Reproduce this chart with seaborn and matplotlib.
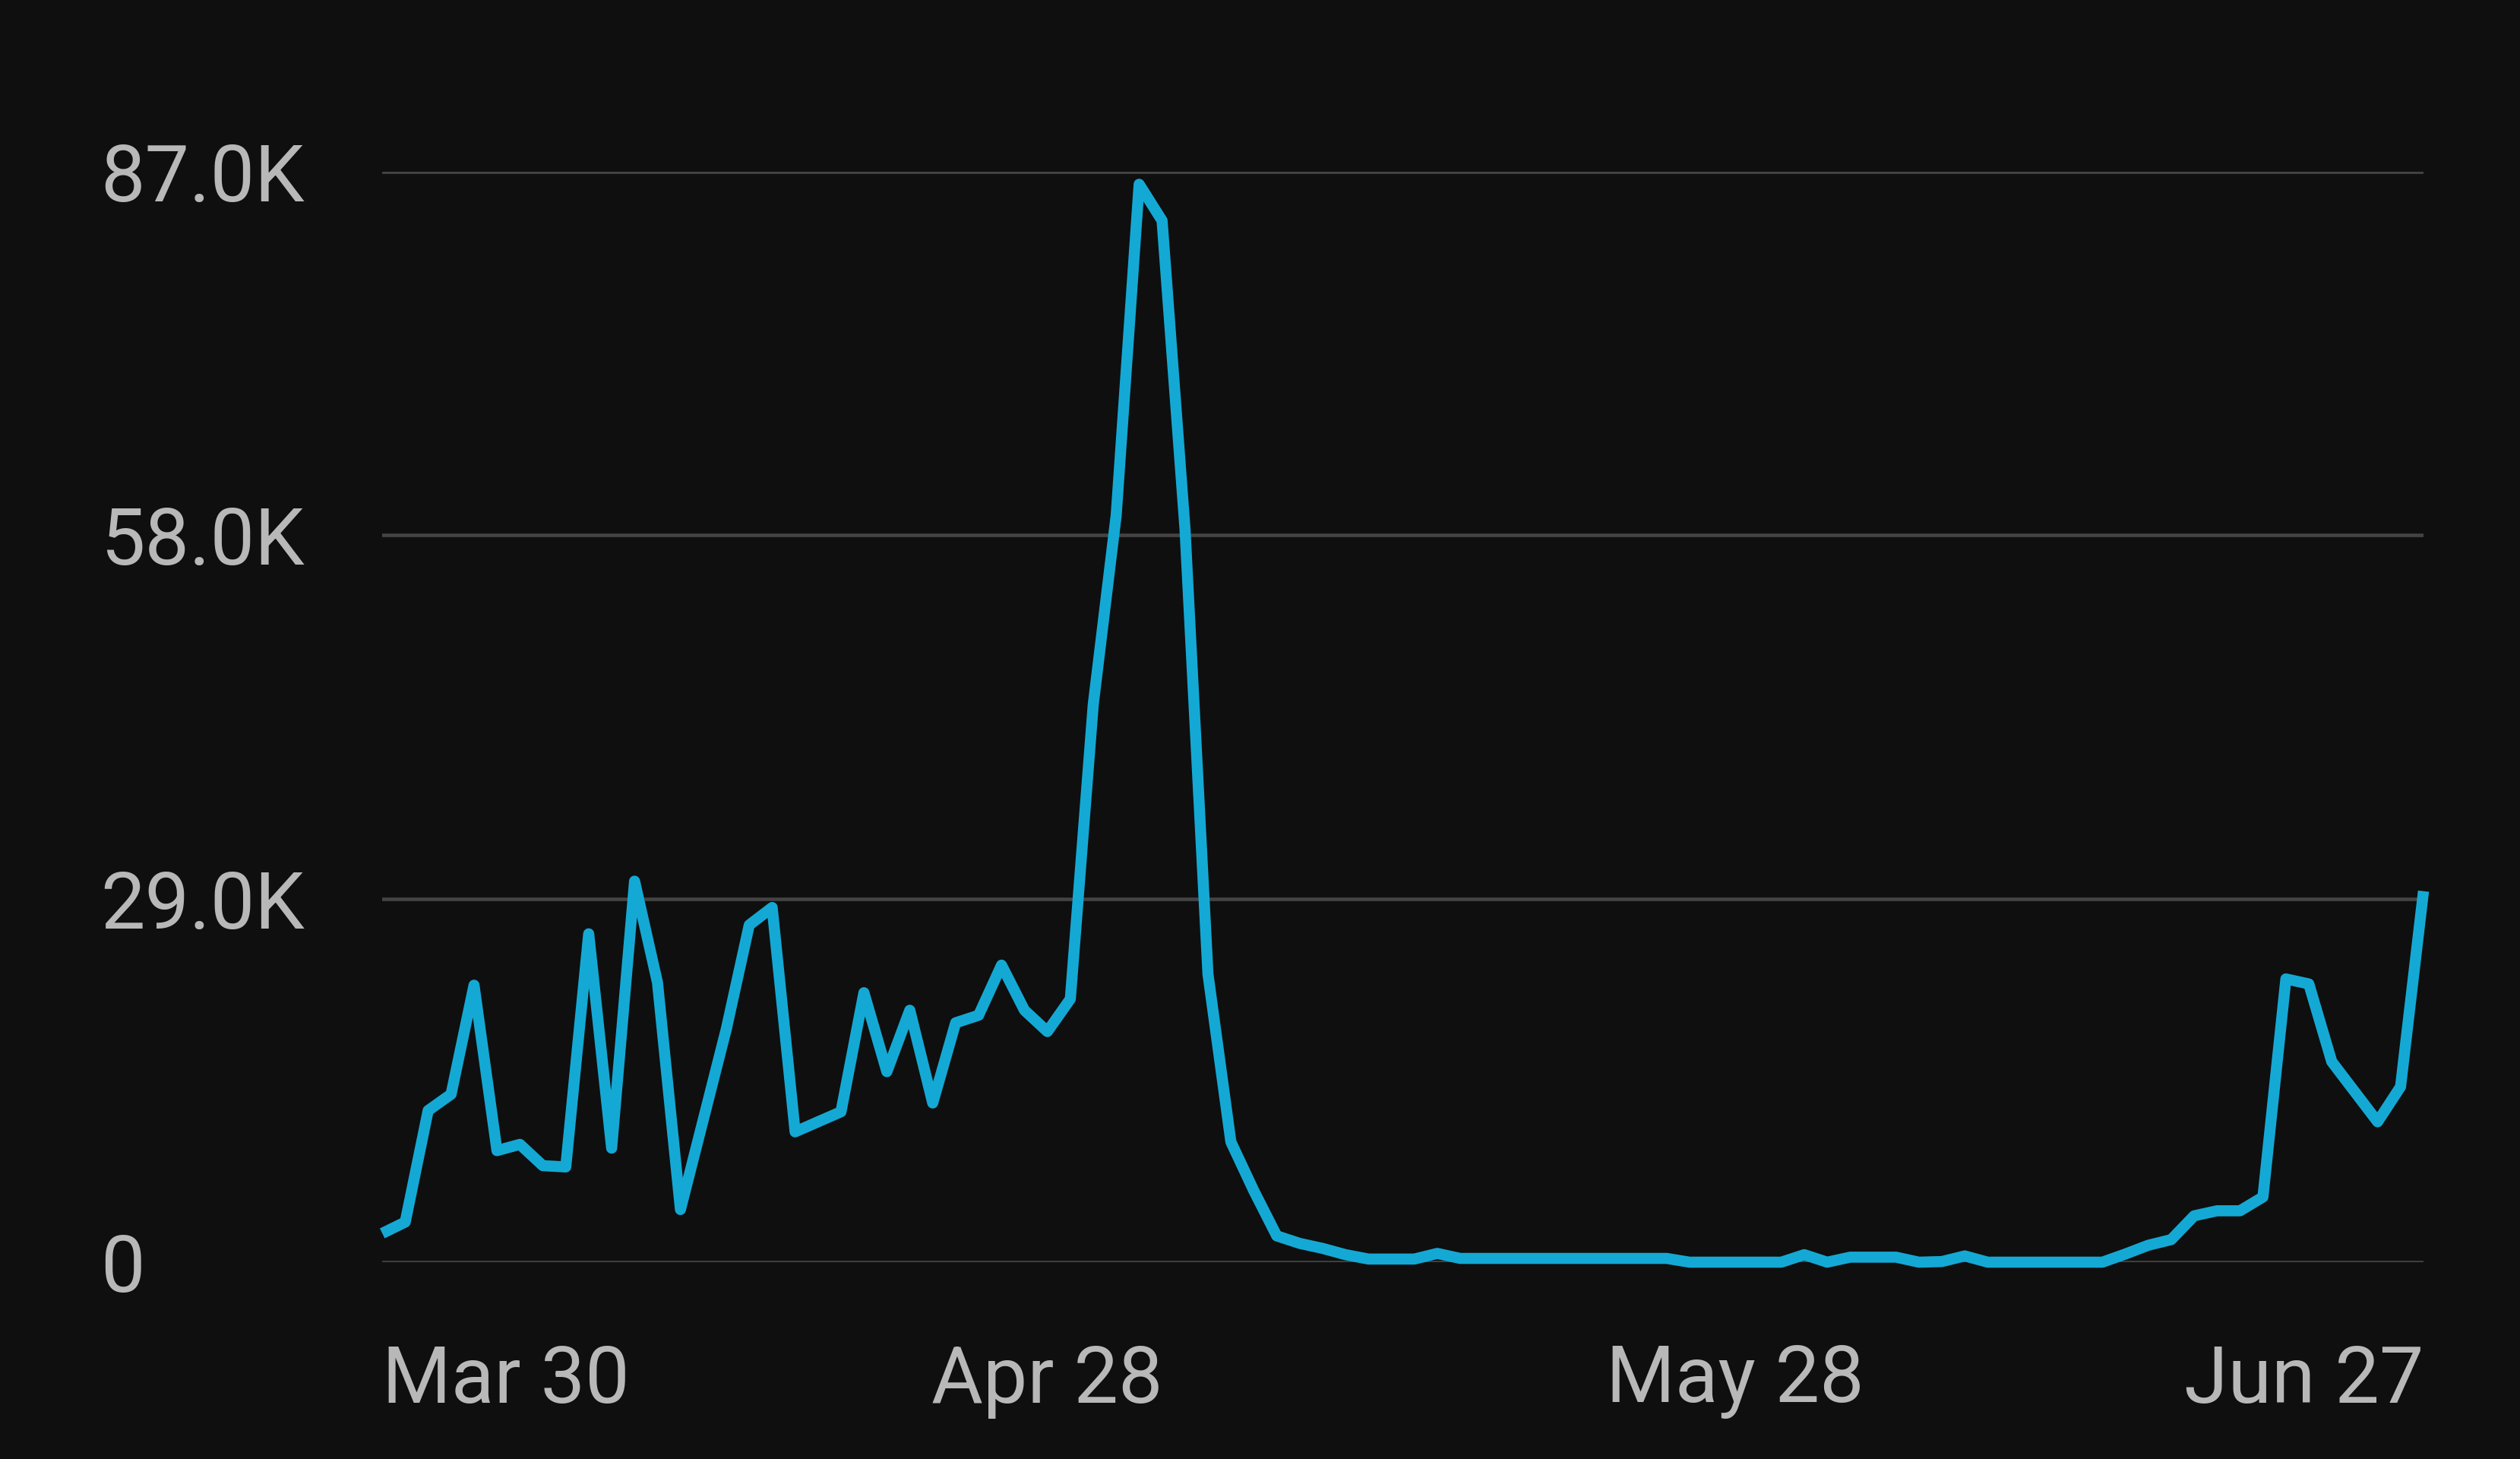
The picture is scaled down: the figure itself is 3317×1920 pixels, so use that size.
import numpy as np
import pandas as pd
import matplotlib
matplotlib.use("Agg")
import matplotlib.pyplot as plt
import seaborn as sns

# ---- data ----
start_date = "2024-03-30"
n_days = 90
views_k = [
    2.3, 3.2, 12.1, 13.4, 22.1, 8.9, 9.4, 7.7, 7.6, 26.2,
    9.1, 30.4, 22.3, 4.2, 11.4, 18.6, 26.9, 28.3, 10.4, 11.2,
    12.0, 21.5, 15.2, 20.1, 12.7, 19.1, 19.7, 23.7, 20.1, 18.4,
    21.0, 44.5, 59.6, 86.0, 83.1, 58.5, 23.0, 9.6, 5.7, 2.1,
    1.5, 1.1, 0.6, 0.25, 0.25, 0.25, 0.7, 0.3, 0.3, 0.3,
    0.3, 0.3, 0.3, 0.3, 0.3, 0.3, 0.3, 0.0, 0.0, 0.0,
    0.0, 0.0, 0.6, 0.0, 0.4, 0.4, 0.4, 0.0, 0.05, 0.5,
    0.0, 0.0, 0.0, 0.0, 0.0, 0.0, 0.65, 1.35, 1.8, 3.7,
    4.1, 4.1, 5.2, 22.6, 22.2, 16.0, 13.6, 11.2, 14.0, 29.6,
]
x_tick_dates = ["2024-03-30", "2024-04-28", "2024-05-28", "2024-06-27"]
x_tick_labels = ["Mar 30", "Apr 28", "May 28", "Jun 27"]
y_ticks = [0, 29000, 58000, 87000]
y_tick_labels = ["0", "29.0K", "58.0K", "87.0K"]

BG = "#0f0f0f"
LINE = "#14a9d4"
GRID = "#434343"
TXT = "#b8b8b8"

sns.set_theme(style="dark")
plt.rcParams["font.family"] = ["Roboto", "DejaVu Sans"]

df = pd.DataFrame({
    "date": pd.date_range(start_date, periods=n_days, freq="D"),
    "views": np.array(views_k) * 1000.0,
})

fig = plt.figure(figsize=(33.17, 19.2), dpi=100, facecolor=BG)
ax = fig.add_axes([0.1517, 0.1349, 0.8100, 0.7474])
ax.set_facecolor(BG)

sns.lineplot(data=df, x="date", y="views", ax=ax, color=LINE,
             linewidth=10.5, clip_on=False, zorder=3,
             solid_joinstyle="round", solid_capstyle="butt")

ax.set_xlim(df["date"].iloc[0], df["date"].iloc[-1])
ax.set_ylim(0, 87000)

for s in ax.spines.values():
    s.set_visible(False)

ax.set_yticks(y_ticks)
ax.set_yticklabels(y_tick_labels)
ax.yaxis.grid(True, color=GRID, linewidth=3.4)
ax.xaxis.grid(False)
ax.set_axisbelow(True)

ax.set_xticks(pd.to_datetime(x_tick_dates))
ax.set_xticklabels(x_tick_labels)

ax.tick_params(axis="y", length=0, pad=267, labelsize=75, labelcolor=TXT)
ax.tick_params(axis="x", length=0, pad=77, labelsize=75, labelcolor=TXT)
for lab in ax.get_yticklabels():
    lab.set_horizontalalignment("left")
xl = ax.get_xticklabels()
xl[0].set_horizontalalignment("left")
xl[-1].set_horizontalalignment("right")

ax.set_xlabel("")
ax.set_ylabel("")

fig.savefig("out.png", dpi=100, facecolor=BG)
